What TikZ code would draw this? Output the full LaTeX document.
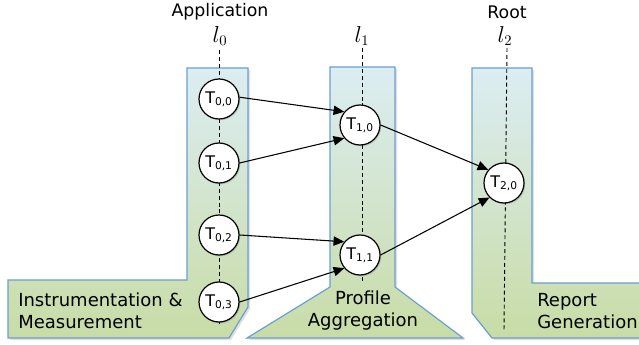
\documentclass[tikz,border=0pt]{standalone}
\usepackage{fontspec}
\setmainfont{DejaVu Sans}
\usetikzlibrary{arrows.meta,shadows}
\definecolor{bandtop}{HTML}{DCEDF3}
\definecolor{bandbot}{HTML}{C8DCA6}
\definecolor{bandline}{HTML}{6A9FD3}
\begin{document}
\begin{tikzpicture}[x=0.75pt,y=-0.75pt,
  band/.style={top color=bandtop, bottom color=bandbot, draw=bandline, line width=0.9pt},
  bandshadow/.style={fill=black, opacity=0.12},
  task/.style={circle, draw=black, fill=white, line width=0.9pt, minimum size=30pt, inner sep=0pt,
    font=\fontsize{12}{14}\selectfont,
    drop shadow={shadow xshift=1pt, shadow yshift=-1pt, opacity=0.3}},
  level/.style={draw=black, dashed, dash pattern=on 3pt off 2.2pt, line width=0.7pt},
  arr/.style={draw=black, line width=0.8pt, -{Triangle[length=8pt,width=7pt]}},
  title/.style={font=\fontsize{13}{15}\selectfont},
  lvl/.style={font=\fontsize{16}{18}\selectfont},
  stage/.style={font=\fontsize{13.5}{16.5}\selectfont, inner sep=0pt}]
\useasboundingbox (0,0) rectangle (639,345);

% band shadows
\fill[bandshadow] (189,70)--(250,70)--(250,309)--(231,340)--(10,340)--(10,282)--(189,282)--cycle;
\fill[bandshadow] (332,69)--(397,69)--(397,289)--(465,340)--(249,340)--(332,289)--cycle;
\fill[bandshadow] (474,70)--(534,70)--(534,285)--(643,285)--(643,340)--(494,340)--(474,315)--cycle;

% bands
\path[band] (187,68)--(248,68)--(248,307)--(229,338)--(8,338)--(8,280)--(187,280)--cycle;
\path[band] (330,67)--(395,67)--(395,287)--(463,338)--(247,338)--(330,287)--cycle;
\path[band] (472,68)--(532,68)--(532,283)--(642,283)--(642,338)--(492,338)--(472,313)--cycle;

% level lines
\coordinate (l0t) at (219,50);  \coordinate (l0b) at (219,326);
\coordinate (l1t) at (362,48);  \coordinate (l1b) at (362,283);
\coordinate (l2t) at (507,48);  \coordinate (l2b) at (504,330);
\draw[level] (l0t) -- (l0b);
\draw[level] (l1t) -- (l1b);
\draw[level] (l2t) -- (l2b);

% headings
\node[title] (app) at (220,12) {Application};
\node[title] (root) at (507,12) {Root};
\node[lvl] (lab0) at (220,36) {$l_0$};
\node[lvl] (lab1) at (362,36) {$l_1$};
\node[lvl] (lab2) at (505,36) {$l_2$};

% tasks
\node[task] (t00) at (219,99)  {T\textsubscript{0,0}};
\node[task] (t01) at (219,163) {T\textsubscript{0,1}};
\node[task] (t02) at (219,235) {T\textsubscript{0,2}};
\node[task] (t03) at (219,302) {T\textsubscript{0,3}};
\node[task] (t10) at (360,125) {T\textsubscript{1,0}};
\node[task] (t11) at (360,255) {T\textsubscript{1,1}};
\node[task] (t20) at (504,183) {T\textsubscript{2,0}};

% connectors
\draw[arr] (t00.5) -- (t10.140);
\draw[arr] (t01.east) -- (t10.220);
\draw[arr] (t02.east) -- (t11.140);
\draw[arr] (t03.east) -- (t11.220);
\draw[arr] (t10.east) -- (t20.140);
\draw[arr] (t11.east) -- (t20.225);

% stage labels
\node[stage, anchor=west, align=left] (s1) at (18,311) {Instrumentation \&\\Measurement};
\node[stage, align=center] (s2) at (363,311) {Profile\\Aggregation};
\node[stage, anchor=west, align=left] (s3) at (537,311) {Report\\Generation};
\end{tikzpicture}
\end{document}
